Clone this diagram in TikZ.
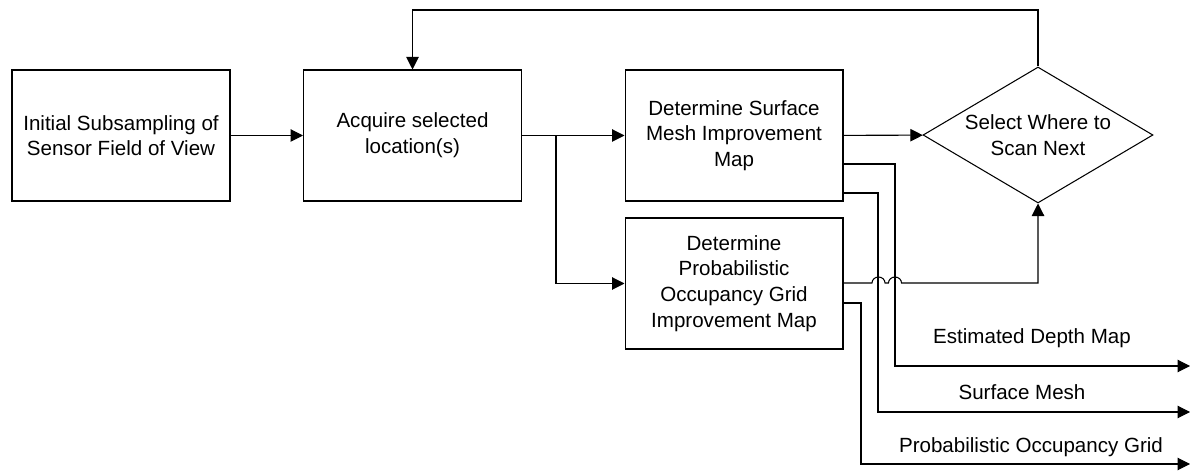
\documentclass[tikz,border=0pt]{standalone}
\usepackage{fontspec}
\setmainfont{Liberation Sans}
\usetikzlibrary{arrows.meta,positioning,calc,shapes.geometric}

\begin{document}
\begin{tikzpicture}[
    x=0.02cm, y=-0.02cm,
    line width=0.6pt,
    font=\fontsize{11.7}{14.6}\selectfont,
    block/.style={rectangle,draw,align=center,inner sep=0pt,minimum width=4.36cm,minimum height=2.62cm},
    decision/.style={diamond,draw,align=center,inner sep=0pt,aspect=1.69,minimum width=4.6cm,minimum height=2.72cm},
    outlabel/.style={inner sep=0pt},
    >={Triangle[length=0.25cm,width=0.25cm]}
  ]
  \useasboundingbox (0,0) rectangle (1193,472);

  % main chain
  \node[block] (init) at (121,135.5) {Initial Subsampling of\\Sensor Field of View};
  \node[block] (acquire) at (412.5,135.5) {Acquire selected\\location(s)};
  \node[block] (surfmap) at (734,135.5) {Determine Surface\\Mesh Improvement\\Map};
  \node[block] (gridmap) at (734,283.5) {Determine\\Probabilistic\\Occupancy Grid\\Improvement Map};
  \node[decision] (select) at (1038,135) {Select Where to\\Scan Next};

  \coordinate (split) at (556,135.5);
  \draw[->] (init) -- (acquire);
  \draw[->] (acquire) -- (surfmap);
  \draw[->] (split) |- (gridmap.west);
  \draw[->] (surfmap) -- (select);

  % loop back
  \draw[->] (select.north) -- (1038,10) -| (acquire.north);

  % grid map to decision, hopping over the two outputs
  \draw[->] (gridmap.east |- 0,283) -- (872,283)
    arc[start angle=180,end angle=360,x radius=6.5,y radius=6] -- (888.5,283)
    arc[start angle=180,end angle=360,x radius=6.5,y radius=6] -| (select.south);

  % outputs
  \coordinate (depthout) at (1190,366);
  \coordinate (meshout) at (1190,412);
  \coordinate (gridout) at (1190,464);
  \draw[->] (surfmap.east |- 0,164) -| (895,366) -- (depthout);
  \draw[->] (surfmap.east |- 0,193) -| (878,412) -- (meshout);
  \draw[->] (gridmap.east |- 0,303) -| (861,464) -- (gridout);

  \node[outlabel] (lbldepth) at (1032,338) {Estimated Depth Map};
  \node[outlabel] (lblmesh) at (1022,392) {Surface Mesh};
  \node[outlabel] (lblgrid) at (1031,447) {Probabilistic Occupancy Grid};
\end{tikzpicture}
\end{document}
